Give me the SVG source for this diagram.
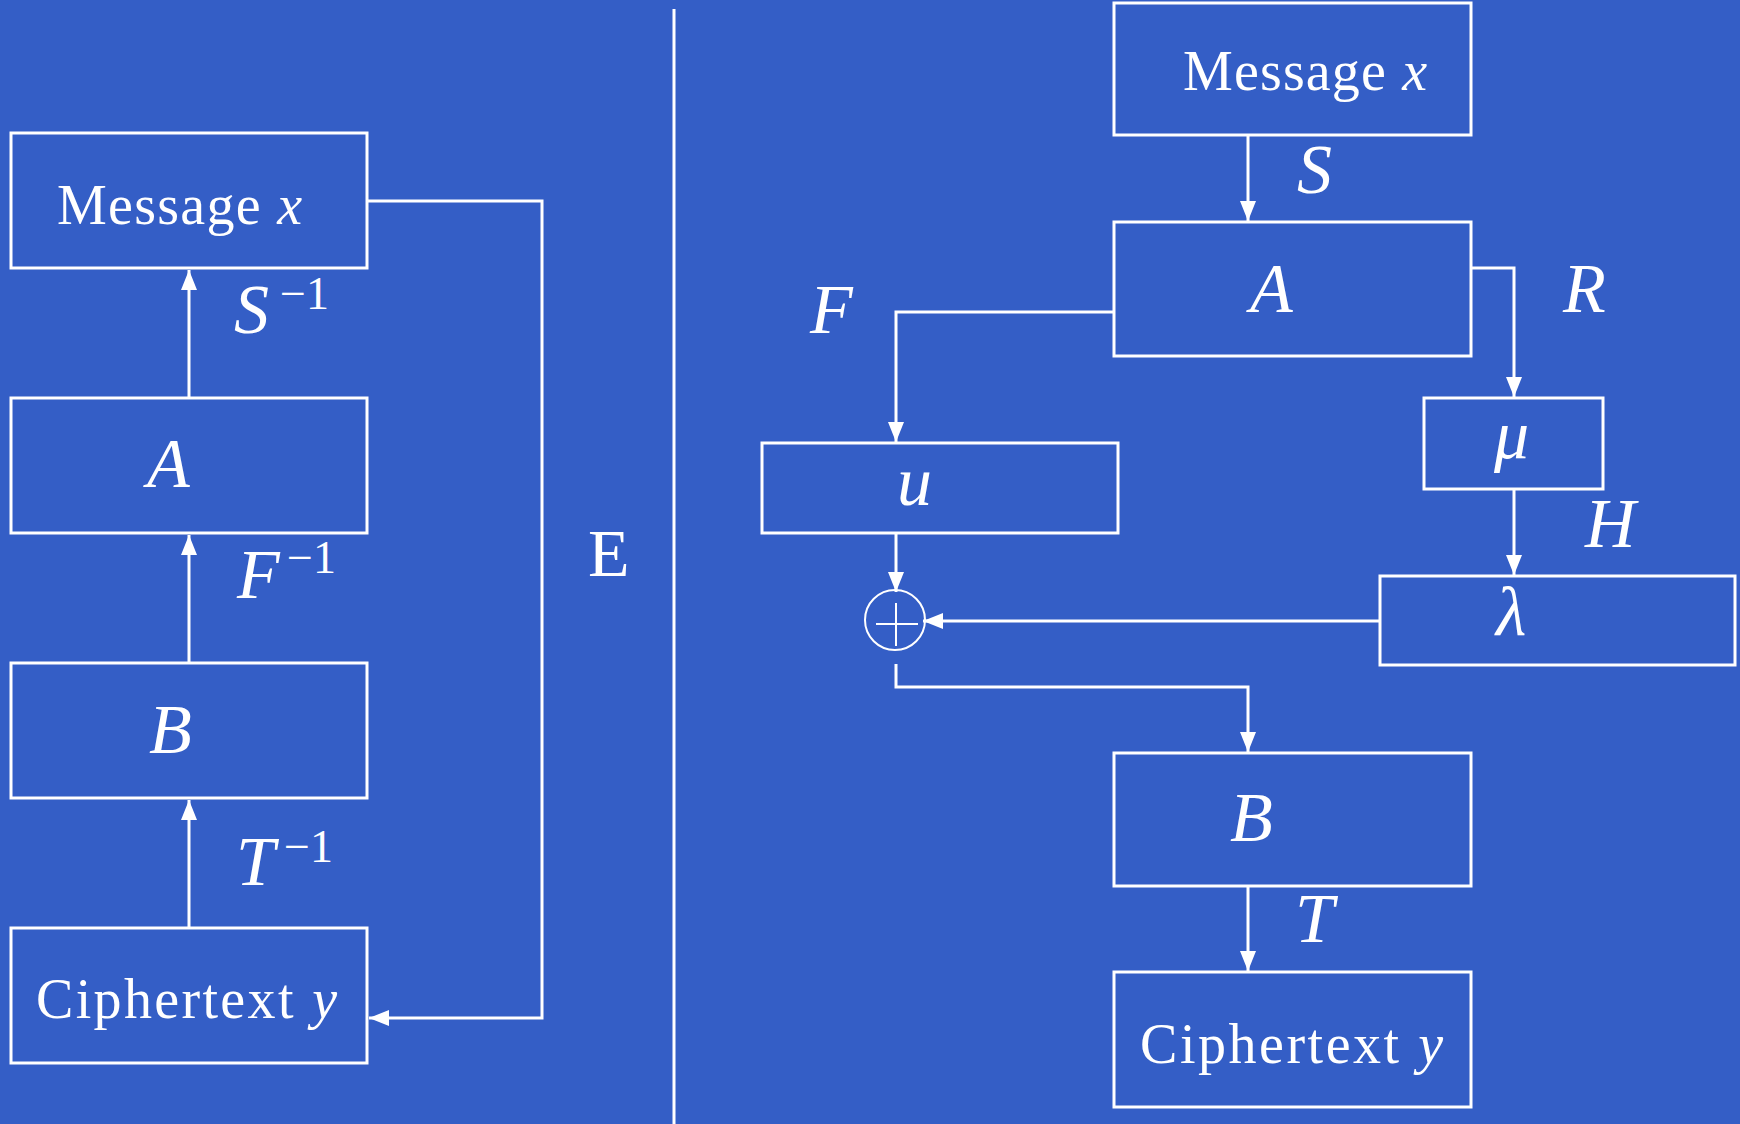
<svg xmlns="http://www.w3.org/2000/svg" width="1740" height="1124" viewBox="0 0 1740 1124">
<style>
.box{fill:none;stroke:#fff;stroke-width:3}
.ln{fill:none;stroke:#fff;stroke-width:3}
.t{fill:#fff;font-family:"Liberation Serif","Times New Roman",serif}
.m{font-style:italic;font-size:70px}
.w{font-size:56px}
.sup{font-size:46px;font-style:normal}
</style>
<defs>
<marker id="ar" markerUnits="userSpaceOnUse" markerWidth="22" markerHeight="18" refX="20" refY="8" orient="auto">
<path d="M0,0 L20,8 L0,16 z" fill="#fff"/>
</marker>
</defs>
<rect width="1740" height="1124" fill="#345ec6"/>
<line x1="674" y1="9" x2="674" y2="1124" class="ln"/>

<g id="l-message">
<rect x="11" y="133" width="356" height="135" class="box"/>
<text x="57" y="224" class="t w" textLength="245">Message <tspan font-style="italic">x</tspan></text>
</g>
<g id="l-A">
<rect x="11" y="398" width="356" height="135" class="box"/>
<text x="147" y="487" class="t m">A</text>
</g>
<g id="l-B">
<rect x="11" y="663" width="356" height="135" class="box"/>
<text x="149" y="753" class="t m">B</text>
</g>
<g id="l-cipher">
<rect x="11" y="928" width="356" height="135" class="box"/>
<text x="36" y="1018" class="t w" textLength="301">Ciphertext <tspan font-style="italic">y</tspan></text>
</g>
<g id="label-E"><text x="588" y="576" class="t" font-size="68">E</text></g>

<g id="r-message">
<rect x="1114" y="3" width="357" height="132" class="box"/>
<text x="1183" y="90" class="t w" textLength="244">Message <tspan font-style="italic">x</tspan></text>
</g>
<g id="r-A">
<rect x="1114" y="222" width="357" height="134" class="box"/>
<text x="1250" y="312" class="t m">A</text>
</g>
<g id="r-u">
<rect x="762" y="443" width="356" height="90" class="box"/>
<text x="897" y="505" class="t m">u</text>
</g>
<g id="r-mu">
<rect x="1424" y="398" width="179" height="91" class="box"/>
<text x="1494" y="458" class="t m">μ</text>
</g>
<g id="r-lambda">
<rect x="1380" y="576" width="355" height="89" class="box"/>
<text x="1496" y="635" class="t m">λ</text>
</g>
<g id="r-xor">
<circle cx="895" cy="620" r="30" fill="none" stroke="#fff" stroke-width="2"/>
<line x1="876" y1="624" x2="918" y2="624" stroke="#fff" stroke-width="2"/>
<line x1="896" y1="603" x2="896" y2="646" stroke="#fff" stroke-width="2"/>
</g>
<g id="r-B">
<rect x="1114" y="753" width="357" height="133" class="box"/>
<text x="1230" y="841" class="t m">B</text>
</g>
<g id="r-cipher">
<rect x="1114" y="972" width="357" height="135" class="box"/>
<text x="1140" y="1063" class="t w" textLength="303">Ciphertext <tspan font-style="italic">y</tspan></text>
</g>

<g id="connectors">
<path d="M189,398 V270" class="ln" marker-end="url(#ar)"/>
<path d="M189,663 V535" class="ln" marker-end="url(#ar)"/>
<path d="M189,928 V800" class="ln" marker-end="url(#ar)"/>
<path d="M367,201 H542 V1018 H369" class="ln" marker-end="url(#ar)"/>
<path d="M1248,135 V221" class="ln" marker-end="url(#ar)"/>
<path d="M1114,312 H896 V442" class="ln" marker-end="url(#ar)"/>
<path d="M1471,268 H1514 V397" class="ln" marker-end="url(#ar)"/>
<path d="M1514,489 V575" class="ln" marker-end="url(#ar)"/>
<path d="M896,533 V592" class="ln" marker-end="url(#ar)"/>
<path d="M1380,621 H923" class="ln" marker-end="url(#ar)"/>
<path d="M896,664 V687 H1248 V752" class="ln" marker-end="url(#ar)"/>
<path d="M1248,886 V971" class="ln" marker-end="url(#ar)"/>
</g>

<g id="labels">
<text x="234" y="333" class="t m">S<tspan x="280" y="309" class="sup">−1</tspan></text>
<text x="237" y="598" class="t m">F<tspan x="287" y="573" class="sup">−1</tspan></text>
<text x="236" y="885" class="t m">T<tspan x="284" y="862" class="sup">−1</tspan></text>
<text x="1297" y="193" class="t m">S</text>
<text x="810" y="333" class="t m">F</text>
<text x="1563" y="312" class="t m">R</text>
<text x="1585" y="547" class="t m">H</text>
<text x="1295" y="942" class="t m">T</text>
</g>
</svg>
